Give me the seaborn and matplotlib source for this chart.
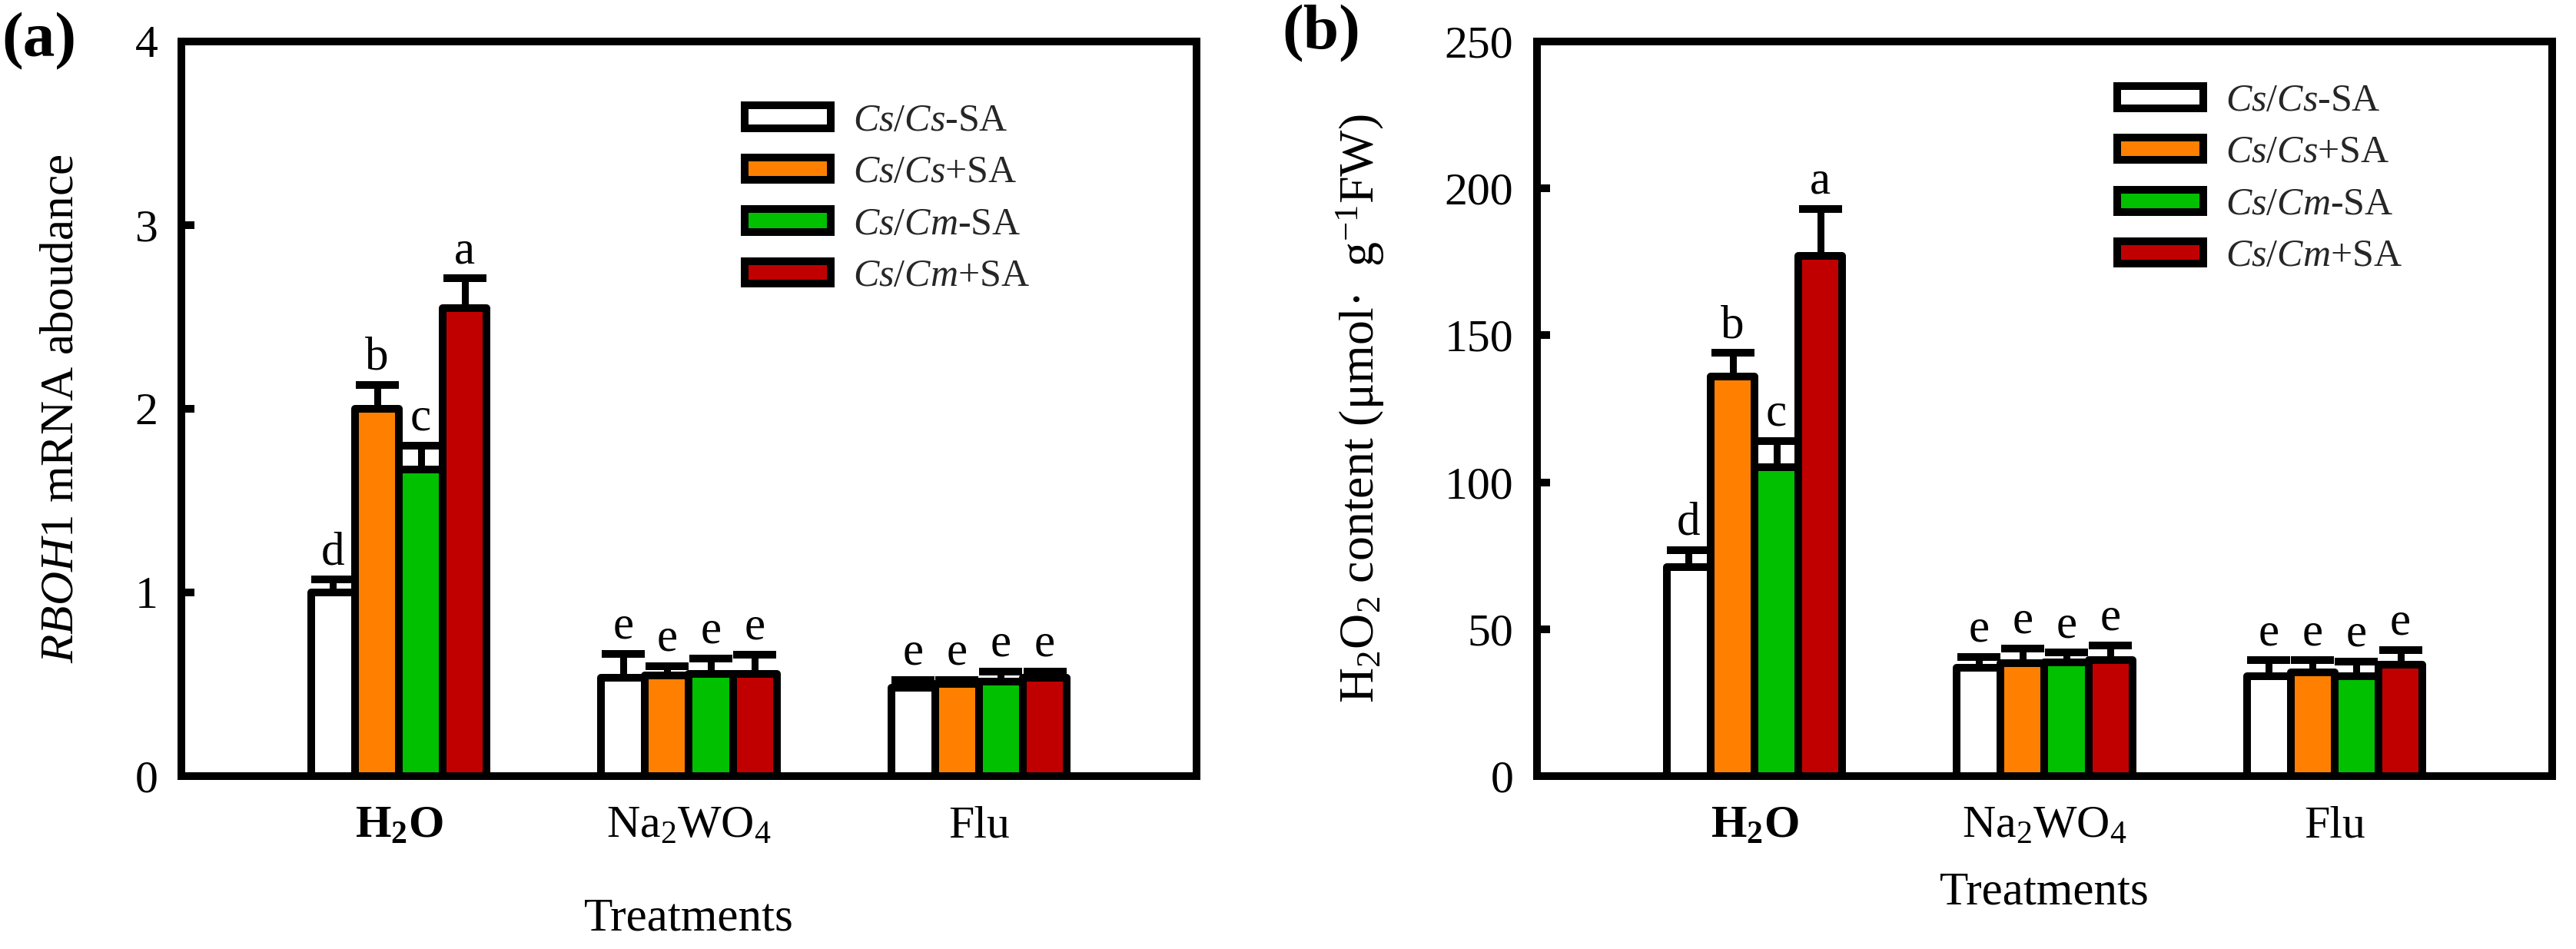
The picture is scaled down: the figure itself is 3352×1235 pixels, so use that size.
import numpy as np
import pandas as pd
import matplotlib
matplotlib.use("Agg")
import matplotlib.pyplot as plt
from matplotlib.patches import Patch
import seaborn as sns

# ---------------- data ----------------
treatments = ["H2O", "Na2WO4", "Flu"]
tick_labels = [r"$\mathbf{H_2O}$", r"Na$_2$WO$_4$", "Flu"]
groups = ["CsCs-SA", "CsCs+SA", "CsCm-SA", "CsCm+SA"]
legend_labels = [r"$\mathit{Cs/Cs}$-SA", r"$\mathit{Cs/Cs}$+SA",
                 r"$\mathit{Cs/Cm}$-SA", r"$\mathit{Cs/Cm}$+SA"]
colors = ["#FFFFFF", "#FF8000", "#00C000", "#C00000"]

# panel (a): RBOH1 mRNA abundance, rows = groups, cols = treatments
rboh_mean = [[1.00, 0.535, 0.483],
             [2.00, 0.548, 0.500],
             [1.67, 0.558, 0.515],
             [2.55, 0.558, 0.535]]
rboh_err = [[0.07, 0.132, 0.042],
            [0.13, 0.052, 0.025],
            [0.13, 0.082, 0.055],
            [0.16, 0.105, 0.035]]
rboh_letters = [["d", "e", "e"], ["b", "e", "e"], ["c", "e", "e"], ["a", "e", "e"]]

# panel (b): H2O2 content
h2o2_mean = [[71.0, 37.0, 34.0],
             [136.0, 38.5, 35.3],
             [105.0, 38.6, 34.0],
             [177.0, 39.6, 38.0]]
h2o2_err = [[6.0, 3.6, 5.4],
            [8.0, 5.0, 4.1],
            [9.0, 3.4, 5.0],
            [16.0, 4.9, 5.0]]
h2o2_letters = [["d", "e", "e"], ["b", "e", "e"], ["c", "e", "e"], ["a", "e", "e"]]

# ---------------- style ----------------
sns.set_theme(style="white")
plt.rcParams["font.family"] = ["Liberation Serif", "DejaVu Serif"]
plt.rcParams["mathtext.fontset"] = "custom"
plt.rcParams["mathtext.rm"] = "Liberation Serif"
plt.rcParams["mathtext.it"] = "Liberation Serif:italic"
plt.rcParams["mathtext.bf"] = "Liberation Serif:bold"
plt.rcParams["axes.unicode_minus"] = True

LW = 7.2
fig = plt.figure(figsize=(33.52, 12.35), dpi=100)
axA = fig.add_axes([0.070406, 0.18219, 0.39409, 0.77409])
axB = fig.add_axes([0.59666, 0.18219, 0.39409, 0.77409])


def make_df(mean, err):
    rows = []
    for gi, g in enumerate(groups):
        for ti, t in enumerate(treatments):
            rows.append({"treatment": t, "group": g, "value": mean[gi][ti], "err": err[gi][ti]})
    return pd.DataFrame(rows)


def draw(ax, mean, err, letters, ymax, ystep, ylabel, ylab_size, ylab_x, xlab_y, leg_anchor):
    df = make_df(mean, err)
    sns.barplot(data=df, x="treatment", y="value", hue="group", order=treatments,
                hue_order=groups, palette=colors, width=0.605, gap=0,
                edgecolor="black", linewidth=LW, errorbar=None, legend=False,
                saturation=1, ax=ax)
    for p in ax.patches:
        p.set_joinstyle("round")
    off = 0.021 * ymax
    bar_conts = list(ax.containers)
    for gi, cont in enumerate(bar_conts):
        for ti, bar in enumerate(cont.patches):
            x = bar.get_x() + bar.get_width() / 2
            y = bar.get_height()
            e = err[gi][ti]
            eb = ax.errorbar([x], [y], yerr=[[0], [e]], fmt="none", ecolor="black",
                             elinewidth=LW * 0.9, capsize=20, capthick=LW, zorder=3)
            for cap in eb[1]:
                if np.allclose(np.asarray(cap.get_ydata(), dtype=float), y):
                    cap.set_visible(False)
                else:
                    cap.set_solid_capstyle("round")
            ax.text(x, y + e + off, letters[gi][ti], ha="center", va="baseline",
                    fontsize=44, color="black")
    ax.set_xlim(-0.75, 2.75)
    ax.set_ylim(0, ymax)
    ticks = np.arange(0, ymax + ystep / 2, ystep)
    ax.set_yticks(ticks)
    ax.set_yticklabels([f"{int(v)}" for v in ticks])
    ax.set_xticks(range(len(treatments)))
    ax.set_xticklabels(tick_labels)
    ax.tick_params(axis="y", direction="in", length=12, width=LW, labelsize=43,
                   pad=22, colors="black", left=True)
    ax.tick_params(axis="x", length=0, labelsize=43, pad=28, colors="black")
    for s in ax.spines.values():
        s.set_visible(True)
        s.set_linewidth(LW)
        s.set_color("black")
    ax.set_ylabel(ylabel, fontsize=ylab_size, color="black")
    ax.yaxis.set_label_coords(ylab_x, 0.5)
    ax.set_xlabel("Treatments", fontsize=44, color="black")
    ax.xaxis.set_label_coords(0.5, xlab_y)
    handles = [Patch(facecolor=c, edgecolor="black", linewidth=LW, joinstyle="round")
               for c in colors]
    ax.legend(handles, legend_labels, loc="upper left", bbox_to_anchor=leg_anchor,
              frameon=False, fontsize=36, handlelength=2.24, handleheight=0.52,
              handletextpad=0.58, labelspacing=0.42, borderpad=0, borderaxespad=0)


draw(axA, rboh_mean, rboh_err, rboh_letters, 4, 1,
     r"$\mathit{RBOH1}$ mRNA aboudance", 44, -0.097, -0.165, (0.5549, 0.916))
draw(axB, h2o2_mean, h2o2_err, h2o2_letters, 250, 50,
     r"H$_2$O$_2$ content (μmol·  g$^{-1}$FW)", 46, -0.148, -0.13, (0.5715, 0.943))

fig.text(2 / 3352, 1 - 16 / 1235, "(a)", fontsize=60, fontweight="bold",
         ha="left", va="top", color="black")
fig.text(1668 / 3352, 1 - 6 / 1235, "(b)", fontsize=60, fontweight="bold",
         ha="left", va="top", color="black")

fig.savefig("out.png", dpi=100, facecolor="white")
